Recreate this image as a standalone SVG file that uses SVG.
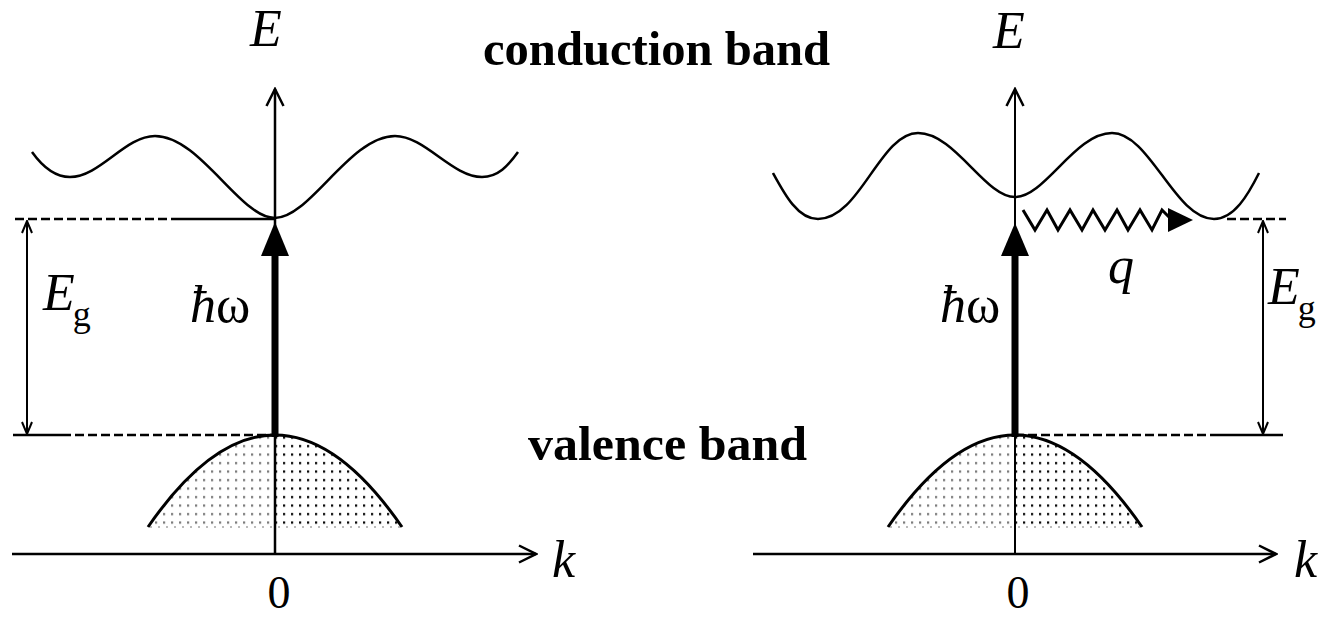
<svg xmlns="http://www.w3.org/2000/svg" width="1320" height="618" viewBox="0 0 1320 618">
<style>
.ln{fill:none;stroke:#000;stroke-width:2.5}
.dash{fill:none;stroke:#000;stroke-width:2.5;stroke-dasharray:9 4}
.band{fill:none;stroke:#000;stroke-width:2.5}
.bold{fill:none;stroke:#000;stroke-width:7}
.head{fill:#000;stroke:none}
.it{font-family:"Liberation Serif","Times New Roman",serif;font-style:italic;font-size:52px;fill:#000}
.up{font-family:"Liberation Serif","Times New Roman",serif;font-size:46px;fill:#000}
.sub{font-family:"Liberation Serif","Times New Roman",serif;font-style:normal;font-size:36px}
.title{font-family:"Liberation Serif","Times New Roman",serif;font-weight:bold;font-size:48px;fill:#000}
</style>
<defs>
<pattern id="dotsGray" patternUnits="userSpaceOnUse" width="8" height="8.5"><rect x="3" y="3" width="2.2" height="2.2" fill="#777"/></pattern>
<pattern id="dotsBlack" patternUnits="userSpaceOnUse" width="8" height="8.5"><rect x="3" y="3" width="2.2" height="2.2" fill="#000"/></pattern>
<clipPath id="leftHalf" clipPathUnits="userSpaceOnUse"><rect x="100" y="400" width="175" height="140"/></clipPath>
<clipPath id="rightHalf" clipPathUnits="userSpaceOnUse"><rect x="275" y="400" width="175" height="140"/></clipPath>
<marker id="openArrow" viewBox="0 0 20 20" refX="18" refY="10" markerWidth="20" markerHeight="20" markerUnits="userSpaceOnUse" orient="auto-start-reverse"><path d="M1,1.5 L18,10 L1,18.5" fill="none" stroke="#000" stroke-width="2.5"/></marker>
<marker id="smallArrow" viewBox="0 0 14 12" refX="13" refY="6" markerWidth="14" markerHeight="12" markerUnits="userSpaceOnUse" orient="auto-start-reverse"><path d="M1,1 L13,6 L1,11" fill="none" stroke="#000" stroke-width="2"/></marker>
<g id="valenceShape">
<path d="M148,527 Q275,343 402,527 Z" fill="url(#dotsGray)" clip-path="url(#leftHalf)"/>
<path d="M148,527 Q275,343 402,527 Z" fill="url(#dotsBlack)" clip-path="url(#rightHalf)"/>
<line x1="150" y1="527" x2="400" y2="527" stroke="#bbb" stroke-width="2" stroke-dasharray="2 6"/>
<path d="M148,527 Q275,343 402,527" fill="none" stroke="#000" stroke-width="3"/>
</g>
</defs>

<g id="left-panel">
<g id="left-conduction-band"><path class="band" d="M32,152 C42,166 54,177 70,177 C100,177 125,136 155,136 C200,136 240,218 275,218 C310,218 350,136 395,136 C425,136 452,177 482,177 C498,177 508,166 518,152"/></g>
<g id="left-valence-band"><use href="#valenceShape"/></g>
<g id="left-axes">
<line class="ln" x1="275" y1="554" x2="275" y2="89" marker-end="url(#openArrow)"/>
<line class="ln" x1="12" y1="554" x2="536" y2="554" marker-end="url(#openArrow)"/>
<text class="it" x="250" y="46">E</text>
<text class="it" x="552" y="577">k</text>
<text class="up" x="279" y="608" text-anchor="middle">0</text>
</g>
<g id="left-gap">
<line class="dash" x1="15" y1="219" x2="175" y2="219"/>
<line class="ln" x1="175" y1="219" x2="275" y2="219"/>
<line class="ln" x1="13" y1="435" x2="62" y2="435"/>
<line class="dash" x1="62" y1="435" x2="275" y2="435"/>
<line x1="27" y1="221" x2="27" y2="434" stroke="#000" stroke-width="2" marker-start="url(#smallArrow)" marker-end="url(#smallArrow)"/>
<text class="it" x="43" y="310">E<tspan class="sub" dx="-2" dy="16">g</tspan></text>
</g>
<g id="left-photon">
<line class="bold" x1="275" y1="437" x2="275" y2="250"/>
<polygon class="head" points="275,222 261,256 289,256"/>
<text class="it" x="190" y="322" font-size="48">ħ<tspan font-style="normal">ω</tspan></text>
</g>
</g>

<g id="right-panel">
<g id="right-conduction-band"><path class="band" d="M773,173 C785,195 798,219 818,219 C860,219 880,133 918,133 C955,133 985,197 1015,197 C1045,197 1075,133 1112,133 C1150,133 1175,219 1214,219 C1234,219 1248,195 1259,173"/></g>
<g id="right-valence-band"><use href="#valenceShape" transform="translate(740,0)"/></g>
<g id="right-axes">
<line x1="1015" y1="554" x2="1015" y2="89" stroke="#000" stroke-width="2" marker-end="url(#openArrow)"/>
<line class="ln" x1="753" y1="554" x2="1276" y2="554" marker-end="url(#openArrow)"/>
<text class="it" x="993" y="48">E</text>
<text class="it" x="1294" y="577">k</text>
<text class="up" x="1018" y="608" text-anchor="middle">0</text>
</g>
<g id="right-gap">
<line class="dash" x1="1227" y1="219" x2="1286" y2="219"/>
<line class="dash" x1="1015" y1="435" x2="1210" y2="435"/>
<line class="ln" x1="1210" y1="435" x2="1283" y2="435"/>
<line x1="1263" y1="221" x2="1263" y2="434" stroke="#000" stroke-width="2" marker-start="url(#smallArrow)" marker-end="url(#smallArrow)"/>
<text class="it" x="1268" y="304">E<tspan class="sub" dx="-2" dy="16">g</tspan></text>
</g>
<g id="right-photon">
<line class="bold" x1="1015" y1="437" x2="1015" y2="250"/>
<polygon class="head" points="1015,223 1001,256 1029,256"/>
<text class="it" x="940" y="322" font-size="48">ħ<tspan font-style="normal">ω</tspan></text>
</g>
<g id="phonon">
<polyline fill="none" stroke="#000" stroke-width="3" stroke-linejoin="miter" points="1023,210 1035,230 1047,210 1058,230 1070,210 1082,230 1093,210 1105,230 1117,210 1128,230 1140,210 1152,230 1162,210 1172,220"/>
<polygon class="head" points="1168,208 1193,220 1168,232"/>
<text class="it" x="1108" y="283" font-size="48">q</text>
</g>
</g>

<g id="titles">
<text class="title" x="483" y="65" textLength="347" lengthAdjust="spacingAndGlyphs">conduction band</text>
<text class="title" x="528" y="460" textLength="279" lengthAdjust="spacingAndGlyphs">valence band</text>
</g>
</svg>
